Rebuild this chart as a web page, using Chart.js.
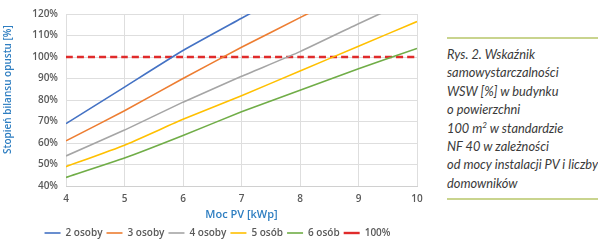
<!DOCTYPE html>
<html lang="pl">
<head>
    <meta charset="UTF-8">
    <title>Stopień bilansu opustu</title>
    <style>
        body {
            margin: 0;
            padding: 0;
            background-color: #ffffff;
        }
        .wrap {
            position: relative;
            width: 598px;
            height: 241px;
            overflow: hidden;
        }
        .chart-box {
            position: absolute;
            left: 0;
            top: 0;
            width: 430px;
            height: 241px;
        }
        .caption {
            position: absolute;
            left: 447px;
            top: 37px;
            width: 160px;
            border-top: 2px solid #c9d48e;
            border-bottom: 2px solid #c9d48e;
            padding: 6px 0 6px 0;
            font-family: Lato, "Open Sans", sans-serif;
            font-style: italic;
            font-size: 12.8px;
            line-height: 18.4px;
            color: #3a3a3a;
            white-space: nowrap;
        }
    </style>
    <script src="https://cdn.jsdelivr.net/npm/chart.js"></script>
</head>
<body>

<div class="wrap">
    <div class="chart-box">
        <canvas id="wswChart"></canvas>
    </div>
    <div class="caption">
        Rys. 2. Wskaźnik<br>
        samowystarczalności<br>
        WSW [%] w budynku<br>
        o powierzchni<br>
        100 m<sup style="font-size:8px;line-height:0">2</sup> w standardzie<br>
        NF 40 w zależności<br>
        od mocy instalacji PV i liczby<br>
        domowników
    </div>
</div>

<script>
    // Moc PV [kWp]
    const pvPower = [4, 5, 6, 7, 8, 9, 10];

    // Stopień bilansu opustu [%] for each household size
    const osoby2 = [69, 86, 103, 118, 133, 147, 161];
    const osoby3 = [61, 75, 90, 104.5, 118.3, 132, 145];
    const osoby4 = [54, 66, 79, 91, 102.5, 115.5, 128];
    const osob5 = [49, 59, 71, 82, 93.5, 105, 116.5];
    const osob6 = [44, 53, 63.5, 74.5, 84.5, 94.5, 104];
    const limit100 = [100, 100, 100, 100, 100, 100, 100];

    const seriesLabels = ['2 osoby', '3 osoby', '4 osoby', '5 osób', '6 osób', '100%'];

    const textGray = '#595959';
    const titleBlue = '#2e7ec1';
    const fontFamily = '"Open Sans", Lato, sans-serif';

    function toPoints(values) {
        return pvPower.map((x, i) => ({ x: x, y: values[i] }));
    }

    function lineSet(label, values, color, dash) {
        return {
            label: label,
            data: toPoints(values),
            borderColor: color,
            backgroundColor: color,
            borderWidth: dash ? 2.4 : 1.6,
            borderDash: dash || [],
            pointRadius: 0,
            tension: 0.15,
            fill: false
        };
    }

    // nudge the legend a bit to the right, like in the source figure
    const legendShift = {
        id: 'legendShift',
        afterLayout(chart) {
            chart.legend.left += 9;
            chart.legend.right += 9;
        }
    };

    const ctx = document.getElementById('wswChart').getContext('2d');
    const wswChart = new Chart(ctx, {
        type: 'line',
        data: {
            datasets: [
                lineSet(seriesLabels[0], osoby2, '#4472c4'),
                lineSet(seriesLabels[1], osoby3, '#ed7d31'),
                lineSet(seriesLabels[2], osoby4, '#a5a5a5'),
                lineSet(seriesLabels[3], osob5, '#ffc000'),
                lineSet(seriesLabels[4], osob6, '#70ad47'),
                lineSet(seriesLabels[5], limit100, '#e02b2b', [7, 4])
            ]
        },
        plugins: [legendShift],
        options: {
            responsive: true,
            maintainAspectRatio: false,
            animation: false,
            layout: {
                padding: { left: 0, right: 13, top: 13, bottom: -7 }
            },
            plugins: {
                tooltip: { enabled: false },
                legend: {
                    position: 'bottom',
                    labels: {
                        usePointStyle: true,
                        pointStyle: 'line',
                        pointStyleWidth: 16,
                        boxHeight: 2,
                        padding: 4,
                        color: textGray,
                        font: { family: fontFamily, size: 10, weight: '600' }
                    }
                }
            },
            scales: {
                x: {
                    type: 'linear',
                    min: 4,
                    max: 10,
                    ticks: {
                        stepSize: 1,
                        padding: 7,
                        color: textGray,
                        font: { family: fontFamily, size: 10, weight: '600' }
                    },
                    grid: { color: '#dedede', drawTicks: false },
                    border: { color: '#d0d0d0' },
                    title: {
                        display: true,
                        text: 'Moc PV [kWp]',
                        color: titleBlue,
                        padding: { top: 0, bottom: 3 },
                        font: { family: fontFamily, size: 11, weight: '600' }
                    },
                    afterFit: scale => { scale.height = 38; }
                },
                y: {
                    min: 40,
                    max: 120,
                    ticks: {
                        stepSize: 10,
                        padding: 8,
                        color: textGray,
                        callback: v => v + '%',
                        font: { family: fontFamily, size: 10, weight: '600' }
                    },
                    grid: { color: '#dedede', drawTicks: false },
                    border: { display: false },
                    title: {
                        display: true,
                        // leading spaces shift the title up, as in the source figure
                        text: '        Stopień bilansu opustu [%]',
                        color: titleBlue,
                        padding: { top: 2, bottom: 2 },
                        font: { family: fontFamily, size: 10, weight: '600' }
                    },
                    afterFit: scale => { scale.width = 66; }
                }
            }
        }
    });
</script>

</body>
</html>
